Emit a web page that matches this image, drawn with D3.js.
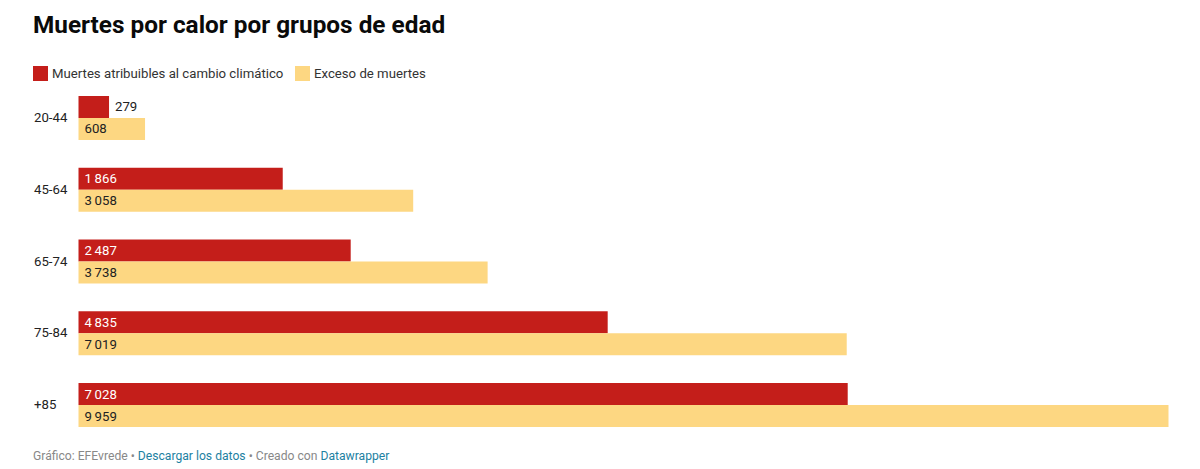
<!doctype html>
<html>
<head>
<meta charset="UTF-8">
<title>Muertes por calor</title>
<script src="https://cdn.jsdelivr.net/npm/d3@7"></script>
<style>
	body { margin: 0; background: #fff; }
	svg { display: block; font-family: Roboto, sans-serif; }
</style>
</head>
<body>
<svg id="chart" width="1200" height="469"></svg>
<script>
var groups = ["20-44", "45-64", "65-74", "75-84", "+85"];
var seriesNames = ["Muertes atribuibles al cambio climático", "Exceso de muertes"];
var atribuibles = [279, 1866, 2487, 4835, 7028];
var exceso = [608, 3058, 3738, 7019, 9959];
var colors = ["#c41e1a", "#fdd782"];

var svg = d3.select("#chart");

var x = d3.scaleLinear().domain([0, 9959]).range([78.5, 1168.5]);
var y = d3.scaleBand().domain(groups).range([96, 427]).paddingInner(0.387);
var inner = d3.scaleBand().domain([0, 1]).range([0, y.bandwidth()]);

// miles con espacio fino: 1 866
var fmt = function(v) { return d3.format(",")(v).replace(",", "\u2009"); };

svg.append("text")
	.attr("x", 33).attr("y", 33)
	.attr("font-size", 24.35).attr("font-weight", 700).attr("fill", "#0a0a0a")
	.text("Muertes por calor por grupos de edad");

// leyenda
var legendX = [33, 295];
seriesNames.forEach(function(name, i) {
	svg.append("rect")
		.attr("x", legendX[i]).attr("y", 66)
		.attr("width", 15).attr("height", 15)
		.attr("fill", colors[i]);
	svg.append("text")
		.attr("x", legendX[i] + 19).attr("y", 78)
		.attr("font-size", 13.2).attr("fill", "#333")
		.text(name);
});

// etiquetas de grupo
svg.selectAll(".group-label")
	.data(groups)
	.enter().append("text")
	.attr("class", "group-label")
	.attr("x", 34)
	.attr("y", function(d) { return y(d) + y.bandwidth() / 2 + 4; })
	.attr("font-size", 13.2).attr("fill", "#222")
	.text(function(d) { return d; });

[atribuibles, exceso].forEach(function(values, s) {
	var row = svg.append("g");

	row.selectAll("rect")
		.data(values)
		.enter().append("rect")
		.attr("x", x(0))
		.attr("y", function(d, i) { return y(groups[i]) + inner(s); })
		.attr("width", function(d) { return x(d) - x(0); })
		.attr("height", inner.bandwidth())
		.attr("fill", colors[s]);

	row.selectAll("text")
		.data(values)
		.enter().append("text")
		.attr("x", function(d) {
			// el 279 no cabe dentro de la barra
			return d < 300 ? x(d) + 6 : x(0) + 6;
		})
		.attr("y", function(d, i) { return y(groups[i]) + inner(s) + inner.bandwidth() / 2 + 4.5; })
		.attr("font-size", 13.2)
		.attr("fill", function(d) { return (s == 0 && d >= 300) ? "#fff" : "#222"; })
		.text(fmt);
});

// pie
var foot = svg.append("text")
	.attr("x", 33).attr("y", 460)
	.attr("font-size", 12.15).attr("fill", "#888");
foot.append("tspan").text("Gráfico: EFEvrede • ");
foot.append("tspan").attr("fill", "#1d81a2").text("Descargar los datos");
foot.append("tspan").text(" • Creado con ");
foot.append("tspan").attr("fill", "#1d81a2").text("Datawrapper");
</script>
</body>
</html>
